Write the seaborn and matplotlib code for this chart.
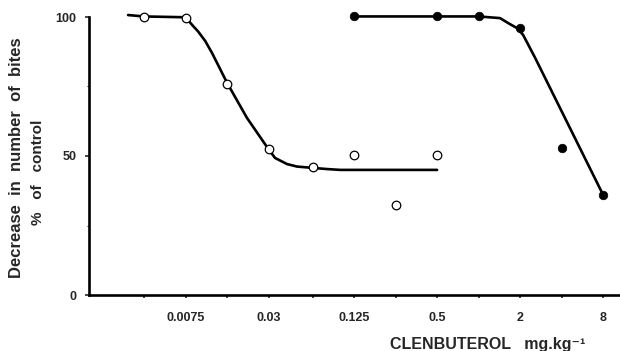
import numpy as np
import pandas as pd
import matplotlib
matplotlib.use("Agg")
import matplotlib.pyplot as plt
from matplotlib.ticker import FixedLocator, NullFormatter
import seaborn as sns

# measured points (dose mg/kg, % decrease)
open_dose = [0.00375, 0.0075, 0.015, 0.03, 0.0625, 0.125, 0.25, 0.5]
open_val = [100, 99.5, 76, 52.5, 46, 50.5, 32.5, 50.5]
filled_dose = [0.125, 0.5, 1, 2, 4, 8]
filled_val = [100.2, 100.3, 100.3, 96, 53, 36]

# fitted curves
open_curve_dose = [0.00287, 0.00375, 0.0075, 0.00835, 0.00924, 0.0104, 0.01168, 0.015,
                   0.0209, 0.03, 0.0334, 0.0408, 0.0482, 0.06, 0.0797, 0.099, 0.5]
open_curve_val = [100.7, 100.2, 99.9, 97.2, 94.8, 91.4, 87.0, 76.3,
                  63.7, 52.4, 49.3, 47.1, 46.2, 45.8, 45.3, 45.0, 45.0]
filled_curve_dose = [0.125, 0.5, 1, 1.43, 1.64, 1.9, 2.1, 2.36, 2.57, 8]
filled_curve_val = [100.2, 100.2, 100.2, 99.6, 97.8, 96.0, 93.6, 88.8, 85.3, 36]

major_ticks = [0.0075, 0.03, 0.125, 0.5, 2, 8]
major_labels = ["0.0075", "0.03", "0.125", "0.5", "2", "8"]
minor_ticks = [0.00375, 0.015, 0.0625, 0.25, 1, 4]

sns.set_style("ticks")
plt.rcParams["font.family"] = ["Liberation Sans", "DejaVu Sans"]

fig = plt.figure(figsize=(6.2, 3.51), dpi=100)
ax = fig.add_axes([89 / 620, 1 - 295 / 351, (620 - 89) / 620, (295 - 17) / 351])

df_oc = pd.DataFrame({"dose": open_curve_dose, "val": open_curve_val})
df_fc = pd.DataFrame({"dose": filled_curve_dose, "val": filled_curve_val})
sns.lineplot(data=df_oc, x="dose", y="val", ax=ax, color="black", lw=1.9,
             estimator=None, clip_on=False)
sns.lineplot(data=df_fc, x="dose", y="val", ax=ax, color="black", lw=1.9,
             estimator=None, clip_on=False)

df_o = pd.DataFrame({"dose": open_dose, "val": open_val})
df_f = pd.DataFrame({"dose": filled_dose, "val": filled_val})
sns.scatterplot(data=df_o, x="dose", y="val", ax=ax, marker="o", s=38,
                facecolor="white", edgecolor="black", linewidth=0.9,
                zorder=5, clip_on=False)
sns.scatterplot(data=df_f, x="dose", y="val", ax=ax, marker="o", s=38,
                color="black", edgecolor="black", zorder=5, clip_on=False)

ax.set_xscale("log", base=2)
ax.set_xlim(0.001495, 10.6)
ax.set_ylim(0, 100)
ax.xaxis.set_major_locator(FixedLocator(major_ticks))
ax.xaxis.set_minor_locator(FixedLocator(minor_ticks))
ax.set_xticklabels(major_labels)
ax.xaxis.set_minor_formatter(NullFormatter())
ax.set_yticks([0, 50, 100])
ax.yaxis.set_minor_locator(FixedLocator([25, 75]))
ax.set_xlabel("")
ax.set_ylabel("")

for lab in ax.get_xticklabels() + ax.get_yticklabels():
    lab.set_fontweight("bold")
    lab.set_fontsize(9)
ax.tick_params(axis="x", which="both", direction="out", length=2.5, width=1.2, pad=10)
ax.tick_params(axis="y", which="major", direction="out", length=3, width=1.2, pad=6)
ax.tick_params(axis="y", which="minor", direction="out", length=1.5, width=0.8)

sns.despine(ax=ax)
for sp in ["left", "bottom"]:
    ax.spines[sp].set_linewidth(1.9)
    ax.spines[sp].set_color("black")

fig.text(17 / 620, 1 - 158 / 351, "Decrease  in  number  of  bites", rotation=90,
         ha="center", va="center", fontsize=12, fontweight="bold")
fig.text(38 / 620, 1 - 172 / 351, "%   of   control", rotation=90,
         ha="center", va="center", fontsize=11, fontweight="bold")
fig.text(390 / 620, 1 - 344 / 351, "CLENBUTEROL   mg.kg\u207b\u00b9",
         ha="left", va="center", fontsize=11.5, fontweight="bold")

fig.savefig("out.png", dpi=100)
